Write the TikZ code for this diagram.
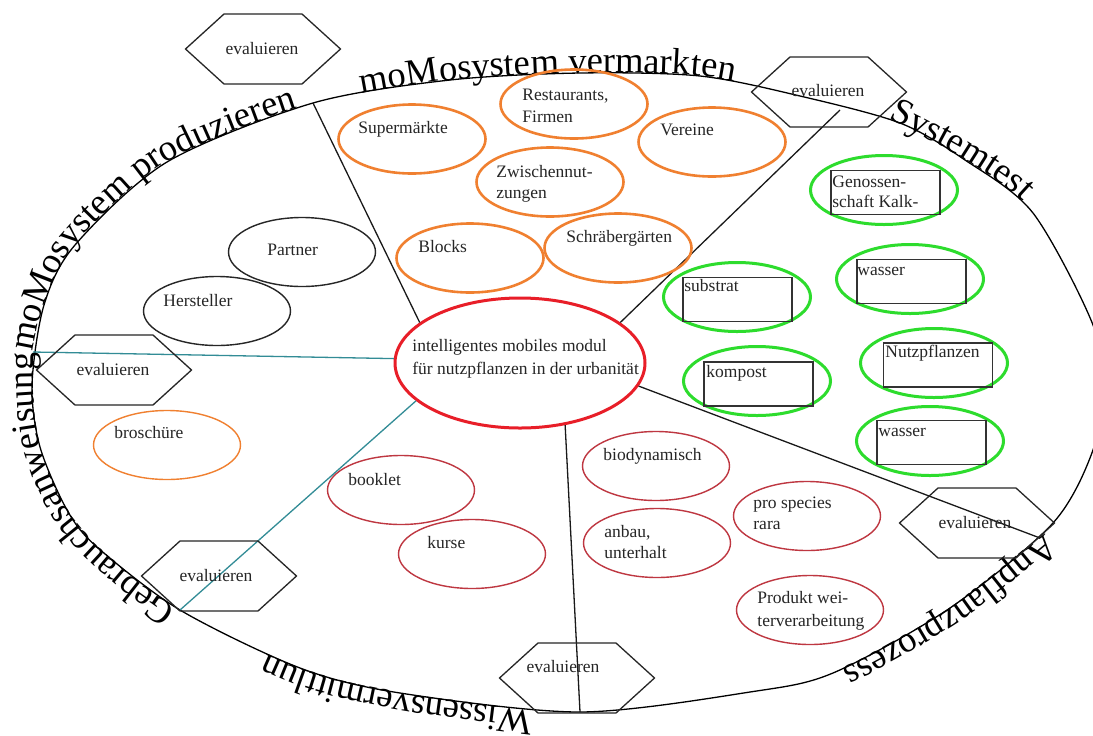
\documentclass[tikz,border=0pt]{standalone}
\usepackage{fontspec}
\setmainfont{Liberation Serif}
\usetikzlibrary{shapes.geometric,decorations.text}
\definecolor{orng}{RGB}{240,128,48}
\definecolor{redc}{RGB}{232,30,40}
\definecolor{dred}{RGB}{190,55,65}
\definecolor{grn}{RGB}{45,220,45}
\definecolor{teal2}{RGB}{50,140,150}
\newcommand\arcfont{\fontsize{18.25}{20}\selectfont}
\begin{document}
\begin{tikzpicture}[x=0.5pt,y=-0.5pt,
  lbl/.style={anchor=base west,inner sep=0pt,font=\fontsize{8.75}{11.5}\selectfont,text=black!85},
  hextext/.style={inner sep=0pt,font=\fontsize{8.75}{11.5}\selectfont,text=black!85},
  hexline/.style={draw=black!85,line width=0.65pt,line join=miter},
  oval/.style={ellipse,inner sep=0pt,minimum width=73.5pt,minimum height=34.5pt},
  ovorange/.style={oval,draw=orng,line width=1.3pt},
  ovthinorange/.style={oval,draw=orng,line width=0.7pt},
  ovblack/.style={oval,draw=black!85,line width=0.7pt},
  ovdred/.style={oval,draw=dred,line width=0.7pt},
  ovgreen/.style={oval,draw=grn,line width=1.5pt},
  box/.style={rectangle,draw=black!80,line width=0.7pt,inner sep=0pt,minimum width=54.5pt,minimum height=22pt},
  sector/.style={draw=black!90,line width=0.65pt},
  tealline/.style={draw=teal2,line width=0.65pt},
  arctext/.style={decorate,decoration={text along path,text={|\arcfont|#1},text align={left}}},
  arcletter/.style={anchor=base west,inner sep=0pt,font=\arcfont}
]
\useasboundingbox (0,0) rectangle (1093,735);
\fill[white] (0,0) rectangle (1093,735);

% outer boundary
\draw[line width=0.65pt,black] plot[smooth cycle] coordinates {
  (32,385) (40,447) (67,510) (97,547) (180,610) (300,668) (400,693) (580,712) (750,692)
  (833,673) (950,608) (1053,523) (1093,450) (1101,390) (1093,325) (1033,213)
  (965,160) (900,123) (800,96) (700,76) (580,73) (450,80) (313,103) (167,162)
  (75,245) (44,305)};

% texts along the boundary (clockwise)
\path[arctext={moMosystem produzieren}] plot[smooth] coordinates {(33,352) (44,305) (75,245) (167,162) (313,103) (450,80)};
\path[arctext={moMosystem vermarkten}] plot[smooth] coordinates {(362,94) (450,80) (580,73) (700,76) (800,96) (900,123)};
\path[arctext={Systemtest}] plot[smooth] coordinates {(888,119) (965,160) (1033,213) (1093,325)};
\path[arctext={Anpflanzprozess}] plot[smooth] coordinates {(1045,533) (950,608) (833,673) (750,692) (580,712)};
\path[arctext={Wissensvermittlun}] plot[smooth] coordinates {(533,711) (400,693) (300,668) (180,610) (97,547)};
\foreach \ch/\px/\py/\ang [count=\i] in {
  G/177/609/144.5, e/155.6/593.7/144.5, b/142.4/584.3/142, r/128.0/573.1/139.9,
  a/118.7/565.2/139.9, u/106.3/554.8/137, c/93.1/542.2/129, h/82.9/529.6/129,
  s/71.4/515.4/123, a/63.7/503.6/117.3, n/56.3/489.2/115, w/48.6/472.7/108.4,
  e/40.2/447.7/102, i/37.6/431.7/98.9, s/36.0/421.7/96, u/34.5/407.6/93.8,
  n/33.3/389.4/91, g/33/371.1/90}{
  \node[arcletter,rotate=\ang] (gb\i) at (\px,\py) {\ch};
}

% central node
\node[ellipse,draw=redc,line width=1.5pt,inner sep=0pt,minimum width=125pt,minimum height=65pt] (c) at (520,363) {};
\node[lbl] (ct1) at (412,351) {intelligentes mobiles modul};
\node[lbl] (ct2) at (412,374) {für nutzpflanzen in der urbanität};

% end points on the boundary
\coordinate (e1) at (313,103);
\coordinate (e2) at (840,110);
\coordinate (e3) at (1040,538);
\coordinate (e4) at (580,712);
\coordinate (e5) at (33,352);
\coordinate (e6) at (180,610);

\draw[sector] (c.158) -- (e1);
\draw[sector] (c.22) -- (e2);
\draw[sector] (c.-11.5) -- (e3);
\draw[sector] (c.-54) -- (e4);
\draw[tealline] (c.178.6) -- (e5);
\draw[tealline] (c.200) -- (e6);

% hexagons
\foreach \n/\px/\py in {h1/263/49, h2/829/92, h3/114/370, h4/219/576, h5/577/678, h6/977/523}{
  \coordinate (\n) at (\px,\py);
  \draw[hexline] (\n) +(-77.5,0) -- +(-39,-35) -- +(39,-35) -- +(77.5,0) -- +(39,35) -- +(-39,35) -- cycle;
}
\node[hextext] (h1t) at (262,49) {evaluieren};
\node[hextext] (h2t) at (828,91) {evaluieren};
\node[hextext] (h3t) at (113,370) {evaluieren};
\node[hextext] (h4t) at (216,576) {evaluieren};
\node[hextext] (h5t) at (563,667) {evaluieren};
\node[hextext] (h6t) at (975,523) {evaluieren};

% orange ellipses
\node[ovorange] (sup) at (412,139) {};
\node[lbl] (supt) at (358,133) {Supermärkte};
\node[ovorange] (res) at (574,104) {};
\node[lbl] (rest1) at (522,100) {Restaurants,};
\node[lbl] (rest2) at (522,122) {Firmen};
\node[ovorange] (ver) at (712,142) {};
\node[lbl] (vert) at (660,135) {Vereine};
\node[ovorange] (zwi) at (550,182) {};
\node[lbl] (zwit1) at (496,177) {Zwischennut-};
\node[lbl] (zwit2) at (496,198) {zungen};
\node[ovorange] (blo) at (470,258) {};
\node[lbl] (blot) at (418,252) {Blocks};
\node[ovorange] (sch) at (618,248) {};
\node[lbl] (scht) at (566,242) {Schräbergärten};
\node[ovthinorange] (bro) at (167,445) {};
\node[lbl] (brot) at (114,438) {broschüre};

% black ellipses
\node[ovblack] (par) at (302,252) {};
\node[lbl] (part) at (267,255) {Partner};
\node[ovblack] (her) at (217,311) {};
\node[lbl] (hert) at (163,306) {Hersteller};

% dark red ellipses
\node[ovdred] (boo) at (401,490) {};
\node[lbl] (boot) at (348,485) {booklet};
\node[ovdred] (kur) at (472,554) {};
\node[lbl] (kurt) at (427,548) {kurse};
\node[ovdred] (bio) at (656,466) {};
\node[lbl] (biot) at (603,460) {biodynamisch};
\node[ovdred] (anb) at (657,543) {};
\node[lbl] (anbt1) at (604,537) {anbau,};
\node[lbl] (anbt2) at (604,558) {unterhalt};
\node[ovdred] (pro) at (807,516) {};
\node[lbl] (prot1) at (753,508) {pro species};
\node[lbl] (prot2) at (753,529) {rara};
\node[ovdred] (prd) at (810,610) {};
\node[lbl] (prdt1) at (757,603) {Produkt wei-};
\node[lbl] (prdt2) at (757,626) {terverarbeitung};

% green ellipses with boxes
\node[ovgreen] (gen) at (884,190) {};
\node[box] (genb) at (885.5,192.5) {};
\node[lbl] (gent1) at (832,187) {Genossen-};
\node[lbl] (gent2) at (832,207) {schaft Kalk-};
\node[ovgreen] (was1) at (910,279) {};
\node[box] (was1b) at (911.5,281.5) {};
\node[lbl] (was1t) at (857,275) {wasser};
\node[ovgreen] (sub) at (737,297) {};
\node[box] (subb) at (737.5,299.5) {};
\node[lbl] (subt) at (684,291) {substrat};
\node[ovgreen] (kom) at (757,381) {};
\node[box] (komb) at (758.5,384) {};
\node[lbl] (komt) at (706,377) {kompost};
\node[ovgreen] (nut) at (934,363) {};
\node[box] (nutb) at (938,365) {};
\node[lbl] (nutt) at (885,357) {Nutzpflanzen};
\node[ovgreen] (was2) at (930,441) {};
\node[box] (was2b) at (931.5,442.5) {};
\node[lbl] (was2t) at (878,436) {wasser};
\end{tikzpicture}
\end{document}
